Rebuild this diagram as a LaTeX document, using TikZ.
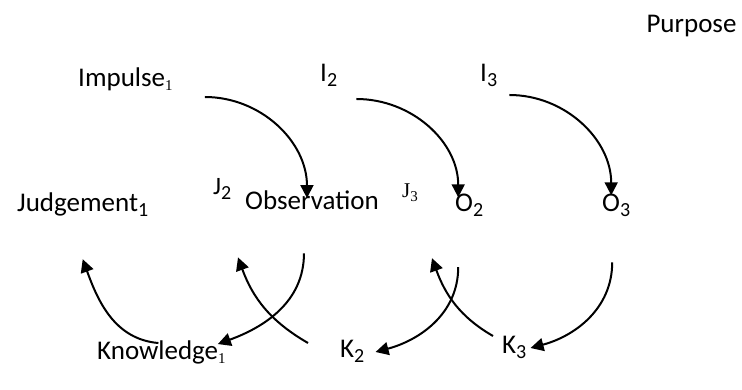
\documentclass[tikz,border=0pt]{standalone}
\usepackage{fontspec}
\setmainfont{Carlito}
\newfontfamily\timesfont{Liberation Serif}
\usetikzlibrary{arrows.meta}

\newcommand{\subsf}[1]{\raisebox{-5pt}{\fontsize{20}{20}\selectfont #1}}
\newcommand{\subrm}[1]{\raisebox{-4pt}{\fontsize{15}{15}\timesfont #1}}

\begin{document}
\begin{tikzpicture}[
        x=1pt, y=1pt,
        >={Triangle[length=13pt,width=13pt]},
        word/.style={
            inner sep=0pt,
            anchor=base west,
            font=\fontsize{27}{32}\selectfont
        },
        arrow/.style={
            ->,
            line width=2pt,
            black
        }
    ]
    \useasboundingbox (0,0) rectangle (742,390);

    % Top row
    \node[word, anchor=base] (purpose) at (691.5,357) {Purpose};
    \node[word] (impulse) at (78,303) {Impulse\subrm{1}};
    \node[word] (i2) at (320,308) {I\subsf{2}};
    \node[word] (i3) at (480,308) {I\subsf{3}};

    % Middle row
    \node[word, font=\fontsize{25}{30}\selectfont] (j2) at (213,195) {J\subsf{2}};
    \node[word] (judge) at (17,178) {Judgement\subsf{1}};
    \node[word] (obs) at (245,180) {Observation};
    \node[word, font=\fontsize{21}{25}\timesfont] (j3) at (402,192) {J\subrm{3}};
    \node[word] (o2) at (455,178) {O\subsf{2}};
    \node[word] (o3) at (602,178) {O\subsf{3}};

    % Bottom row
    \node[word] (know) at (97,30) {Knowledge\subrm{1}};
    \node[word] (k2) at (340,32) {K\subsf{2}};
    \node[word] (k3) at (502,36) {K\subsf{3}};

    % Impulse -> Observation
    \draw[arrow] ([xshift=32pt,yshift=-10pt]impulse.base east)
        to[out=0, in=90] ([xshift=-5pt,yshift=-7pt]obs.north);
    \draw[arrow] ([xshift=19pt,yshift=-17pt]i2.base east)
        to[out=0, in=90] ([xshift=-11pt,yshift=-3pt]o2.north);
    \draw[arrow] ([xshift=12pt,yshift=-13pt]i3.base east)
        to[out=0, in=90] ([xshift=-5pt,yshift=-1pt]o3.north);

    % Observation -> Knowledge
    \draw[arrow] ([xshift=-8pt,yshift=-43pt]obs.south)
        to[out=-90, in=20] ([xshift=-8pt,yshift=-3pt]know.north east);
    \draw[arrow] ([xshift=-11pt,yshift=-50pt]o2.south)
        to[out=-90, in=15] ([xshift=11pt,yshift=6pt]k2.base east);
    \draw[arrow] ([xshift=-4pt,yshift=-45pt]o3.south)
        to[out=-90, in=15] ([xshift=4pt,yshift=6pt]k3.base east);

    % Knowledge -> Judgement
    \draw[arrow] ([xshift=-3pt,yshift=-2pt]know.north)
        to[out=175, in=-70] ([yshift=-42pt]judge.south);
    \draw[arrow] ([xshift=-32pt,yshift=15pt]k2.base west)
        to[out=150, in=-70] ([xshift=-7pt,yshift=-47pt]obs.south west);
    \draw[arrow] ([xshift=-9pt,yshift=18pt]k3.base west)
        to[out=150, in=-70] ([xshift=-23pt,yshift=-41pt]o2.south west);

\end{tikzpicture}
\end{document}
